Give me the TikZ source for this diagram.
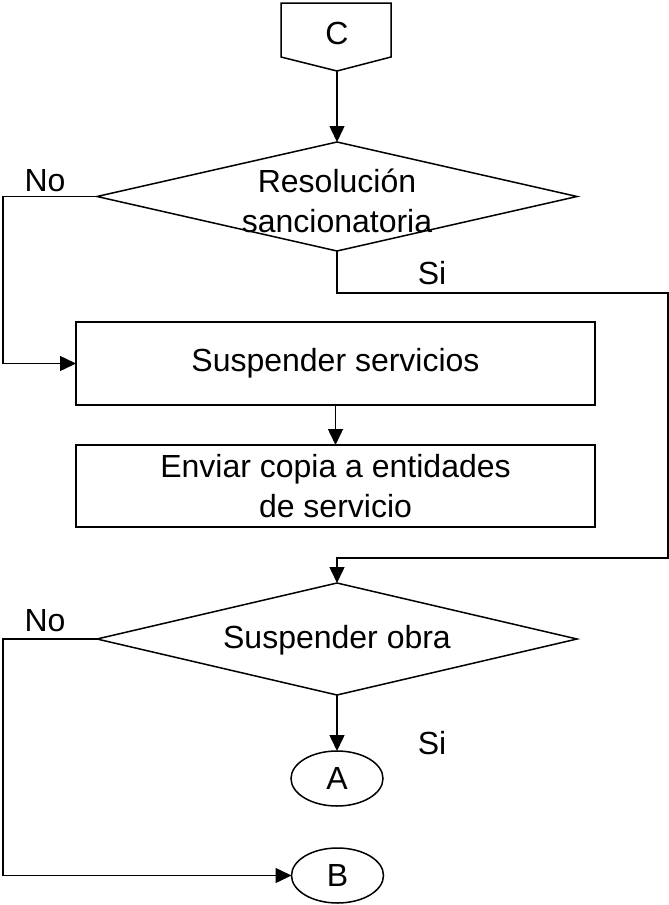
\documentclass[tikz,border=0pt]{standalone}
\usepackage{fontspec}
\setmainfont{Liberation Sans}
\usetikzlibrary{shapes.geometric,arrows.meta}
\begin{document}
\begin{tikzpicture}[x=1pt,y=-1pt,
  every node/.style={font=\fontsize{32}{40}\selectfont},
  ln/.style={line width=1.5pt},
  arr/.style={ln,-{Triangle[length=16pt,width=15pt]}},
  dec/.style={draw,ln,shape=diamond,minimum width=480pt,inner sep=0pt,outer sep=0pt},
  proc/.style={draw,ln,rectangle,minimum width=519pt,inner sep=0pt,outer sep=0pt},
  conn/.style={draw,ln,ellipse,minimum width=92pt,minimum height=55pt,inner sep=0pt,outer sep=0pt},
  lbl/.style={inner sep=0pt}]
\useasboundingbox (0,0) rectangle (669,905);
% off-page connector C
\draw[ln,line join=miter] (281,3) -- (391,3) -- (391,57) -- (337,71) -- (281,57) -- cycle;
\node[lbl] (C) at (337,33) {C};
\coordinate (Ctip) at (337,71);
% decisions
\node[dec,minimum height=109pt] (d1) at (337,196.5) {};
\node[lbl,align=center] (t1) at (337,201) {Resolución\\sancionatoria};
\node[dec,minimum height=112pt] (d2) at (337,639) {};
\node[lbl] (t2) at (337,640) {Suspender obra};
% processes
\node[proc,minimum height=83pt] (r1) at (335.5,363.5) {Suspender servicios};
\node[proc,minimum height=82pt,align=center] (r2) at (335.5,486) {Enviar copia a entidades\\de servicio};
% connectors
\node[conn] (A) at (337,778.5) {A};
\node[conn] (B) at (337.5,875.5) {B};
% labels
\node[lbl] (no1) at (45,181) {No};
\node[lbl] (no2) at (45,621) {No};
\node[lbl] (si1) at (432,273) {Si};
\node[lbl] (si2) at (432,743) {Si};
% bends
\coordinate (k1) at (668,293);
\coordinate (k2) at (668,558);
% arrows
\draw[arr] (Ctip) -- (d1.north);
\draw[arr] (d1.west) -- ++(-94,0) |- (r1.west);
\draw[arr] (d1.south) |- (k1) -- (k2) -| (d2.north);
\draw[arr] (r1.south) -- (r2.north);
\draw[arr] (d2.west) -- ++(-94,0) |- (B.west);
\draw[arr] (d2.south) -- (A.north);
\end{tikzpicture}
\end{document}
